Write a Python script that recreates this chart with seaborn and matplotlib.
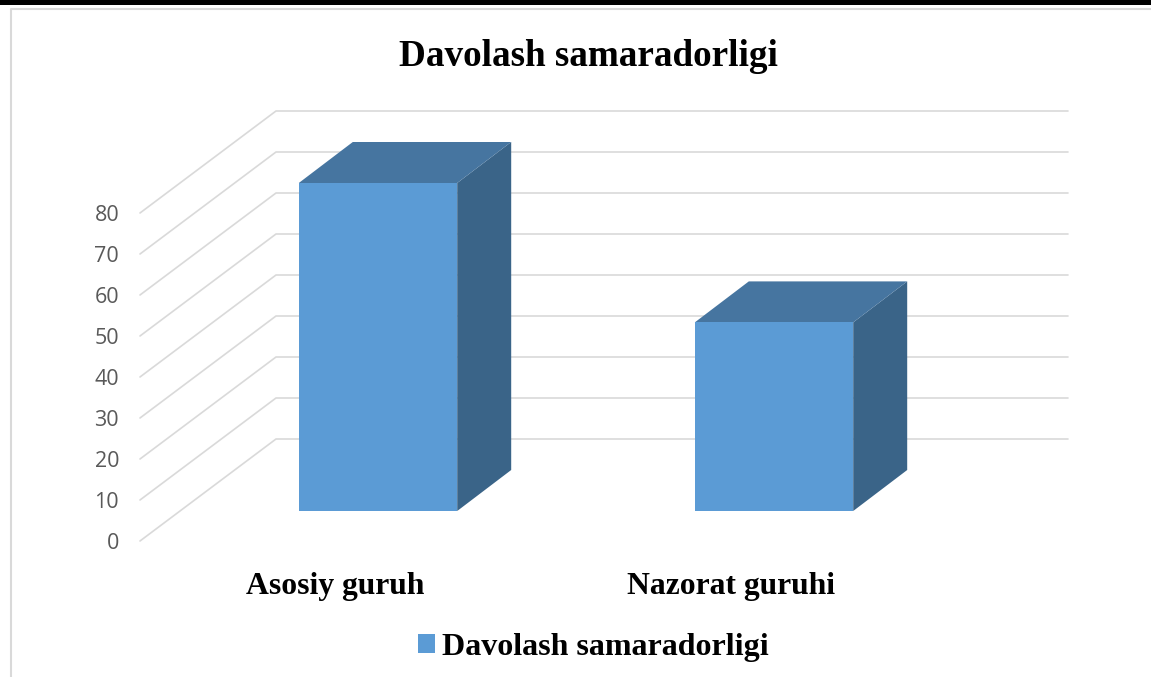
import matplotlib
matplotlib.use('Agg')
import matplotlib.pyplot as plt
import seaborn as sns
from matplotlib.lines import Line2D
from matplotlib.patches import Polygon, Rectangle
from matplotlib.transforms import Affine2D, IdentityTransform

# chart data
groups = ['Asosiy guruh', 'Nazorat guruhi']
values = [80, 46]
series_name = 'Davolash samaradorligi'
y_ticks = [0, 10, 20, 30, 40, 50, 60, 70, 80]

FRONT = '#5B9BD5'
TOP = '#4675A0'
SIDE = '#3A6488'
GRID = '#D9D9D9'

W, H = 1151, 677

sns.set_theme(style='white')
plt.rcParams['font.family'] = ['Liberation Serif', 'DejaVu Serif']

fig = plt.figure(figsize=(W / 100, H / 100), dpi=100, facecolor='white')
# axes = front plane of the fake 3D box
ax = fig.add_axes([140 / W, (H - 541) / H, 792 / W, 328 / H])
ax.patch.set_alpha(0)
ax.set_zorder(3)

sns.barplot(x=groups, y=values, color=FRONT, saturation=1, width=0.4,
            label=series_name, linewidth=0, ax=ax, zorder=5)
ax.set_xlim(-0.5, 1.5)
ax.set_ylim(0, 80)
ax.set_yticks(y_ticks)
sns.despine(ax=ax, left=True, bottom=True)

ax.tick_params(axis='y', length=0, pad=15, labelsize=15.5, labelcolor='#595959')
for lab in ax.get_yticklabels():
    lab.set_family('Open Sans')
ax.tick_params(axis='x', length=0, pad=22, labelsize=22.8, labelcolor='black')
for lab in ax.get_xticklabels():
    lab.set_fontweight('bold')
    lab.set_transform(lab.get_transform() + Affine2D().translate(-2.5, 0))

# wall grid: diagonal on the side wall, then straight along the back
wall_dx, wall_dy = 136, 102
for v in y_ticks:
    x0, y0 = ax.transData.transform((-0.5, v))
    x1, y1 = ax.transData.transform((1.5, v))
    fig.add_artist(Line2D([x0, x0 + wall_dx, x1 + wall_dx],
                          [y0, y0 + wall_dy, y1 + wall_dy],
                          transform=IdentityTransform(), color=GRID, lw=1.2, zorder=1))

# bars sit part way back in the box, extruded side and top faces
bar_tr = ax.transData + Affine2D().translate(40, 30)
bar_dx, bar_dy = 54, 41
for bar in ax.patches:
    bar.set_transform(bar_tr)
    bar.set_clip_on(False)
    bar.set_zorder(5)
    (xl, yb), (xr, yt) = bar_tr.transform([(bar.get_x(), 0),
                                           (bar.get_x() + bar.get_width(), bar.get_height())])
    side = [(xr, yb), (xr + bar_dx, yb + bar_dy), (xr + bar_dx, yt + bar_dy), (xr, yt)]
    top = [(xl, yt), (xr, yt), (xr + bar_dx, yt + bar_dy), (xl + bar_dx, yt + bar_dy)]
    fig.add_artist(Polygon(side, closed=True, transform=IdentityTransform(),
                           facecolor=SIDE, edgecolor='none', zorder=2))
    fig.add_artist(Polygon(top, closed=True, transform=IdentityTransform(),
                           facecolor=TOP, edgecolor='none', zorder=2))

fig.text(588 / W, (H - 56.5) / H, series_name, ha='center', va='center',
         fontsize=26.7, fontweight='bold', color='black')

leg = ax.legend(loc='center', bbox_to_anchor=(593 / W, (H - 647) / H),
                bbox_transform=fig.transFigure, frameon=False,
                prop={'size': 23, 'weight': 'bold'}, labelcolor='black',
                handlelength=0.53, handleheight=0.53, handletextpad=0.22)

# chart border and the black strip at the top of the page
fig.add_artist(Rectangle((0, (H - 5) / H), 1, 5 / H, transform=fig.transFigure,
                         facecolor='black', edgecolor='none', zorder=0))
fig.add_artist(Line2D([10.5 / W, 10.5 / W, 1], [0, (H - 8.5) / H, (H - 8.5) / H],
                      transform=fig.transFigure, color=GRID, lw=1.5, zorder=0))

fig.savefig('out.png', dpi=100)
